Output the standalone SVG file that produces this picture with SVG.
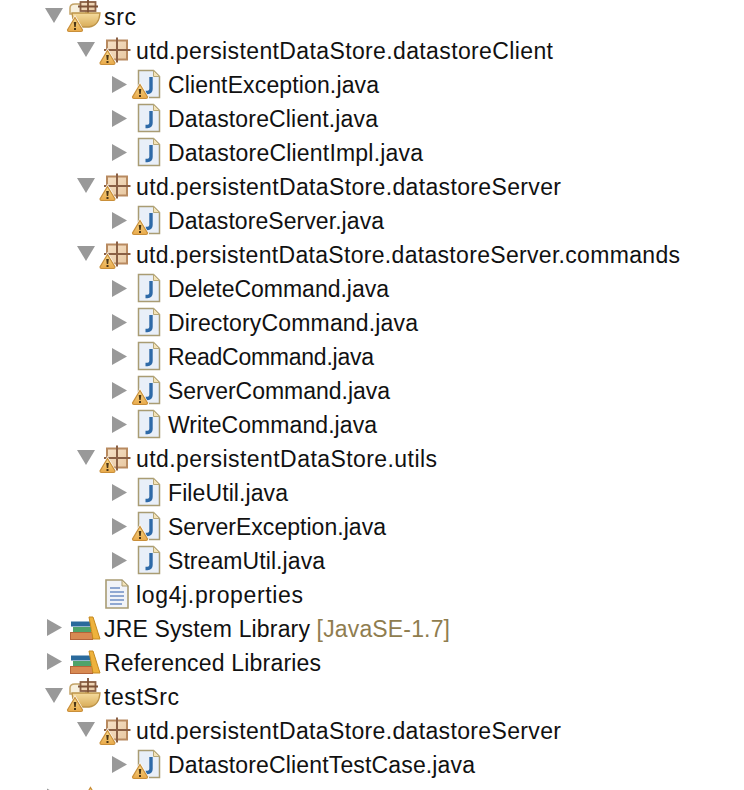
<svg xmlns="http://www.w3.org/2000/svg" width="744" height="790" viewBox="0 0 744 790">
<style>
text{font-family:"Liberation Sans",Arial,sans-serif;font-size:23px;fill:#111}
.tag{fill:#8f7d4f}
.tw{fill:#999}
</style>
<defs>
<linearGradient id="pg" x1="0" y1="0" x2="1" y2="1"><stop offset="0" stop-color="#f6e2c8"/><stop offset="1" stop-color="#e8c8a2"/></linearGradient>
<linearGradient id="bowl" x1="0" y1="0" x2="0" y2="1"><stop offset="0" stop-color="#f5dc9f"/><stop offset="1" stop-color="#d9ac58"/></linearGradient>
<linearGradient id="wg" x1="0" y1="0" x2="0" y2="1"><stop offset="0" stop-color="#f8d98a"/><stop offset="1" stop-color="#e8a94a"/></linearGradient>
<path id="down" class="tw" d="M-9-7.500H9L0 7.500Z"/>
<path id="right" class="tw" d="M-7.500-8.500L7.500 0-7.500 8.500Z"/>
<g id="warn"><path d="M0-9L8 4.500Q8 6 6 6H-6Q-8 6-8 4.500Z" fill="#fff" stroke="#fff" stroke-width="2"/><path d="M0-8.500L7.500 4Q7.500 5.500 6 5.500H-6Q-7.500 5.500-7.500 4Z" fill="url(#wg)" stroke="#c98f3a" stroke-width="1.200"/><path d="M-1.300-4H1.300L.7 1H-.7Z" fill="#4a3415"/><rect x="-1" y="2" width="2" height="2" fill="#4a3415"/></g>
<g id="pkg"><rect x="-10" y="-9.500" width="20" height="19" fill="url(#pg)" stroke="#b88a60" stroke-width="2"/><path d="M-1-12.500H1V12.500H-1ZM-13-1H13.500V1H-13Z" fill="#8a6045"/></g>
<g id="java"><path d="M-10.500-13.500H4.500L10.500-7.500V13.500H-10.500Z" fill="#e9eff8" stroke="#a99c73" stroke-width="1.500"/><path d="M4.500-13.500V-7.500H10.500Z" fill="#f4e3b8" stroke="#b7a878" stroke-width="1"/><path d="M2-7V5Q2 8.500-1.500 8.500H-3.500" fill="none" stroke="#2e6aa8" stroke-width="3.400"/></g>
<g id="prop"><path d="M-11-14H5L11-8V14H-11Z" fill="#f1f3f8" stroke="#a99c73" stroke-width="1.600"/><path d="M5-14V-8H11Z" fill="#f4e3b8" stroke="#a99c73" stroke-width="1"/><path d="M-7-6H3M-7-2H7M-7 2H7M-7 6H7M-7 10H5" stroke="#6f8fc4" stroke-width="1.700"/></g>
<g id="root"><path d="M-15-8Q-15-12-10-12H1V-2H-15Z" fill="#f7f0de" stroke="#c4a468" stroke-width="1.500"/><rect x="-4.500" y="-14" width="15" height="9" fill="url(#pg)" stroke="#8a6045" stroke-width="1.800"/><path d="M3-18V-2M-7-9.500H13" stroke="#7d5237" stroke-width="1.800"/><path d="M-13-3H15Q14 10 4 11H-6Q-12 9-13-3Z" fill="url(#bowl)" stroke="#bd9448" stroke-width="1.300"/></g>
<g id="lib"><rect x="-14" y="-6.500" width="20" height="5" fill="#2a6a9c"/><rect x="-12" y="-1" width="18" height="5.500" fill="#4fa36a"/><rect x="-14.500" y="4.500" width="22" height="7" fill="#d88a52" stroke="#b5653a"/><path d="M4-11H8L15 11H8Z" fill="#eeb23c" stroke="#c68a20"/></g>
</defs>

<g id="connectors">
<use href="#down" x="54" y="15.500"/>
<use href="#down" x="86" y="49.500"/>
<use href="#right" x="119.500" y="84.500"/>
<use href="#right" x="119.500" y="118.500"/>
<use href="#right" x="119.500" y="152.500"/>
<use href="#down" x="86" y="185.500"/>
<use href="#right" x="119.500" y="220.500"/>
<use href="#down" x="86" y="253.500"/>
<use href="#right" x="119.500" y="288.500"/>
<use href="#right" x="119.500" y="322.500"/>
<use href="#right" x="119.500" y="356.500"/>
<use href="#right" x="119.500" y="390.500"/>
<use href="#right" x="119.500" y="424.500"/>
<use href="#down" x="86" y="457.500"/>
<use href="#right" x="119.500" y="492.500"/>
<use href="#right" x="119.500" y="526.500"/>
<use href="#right" x="119.500" y="560.500"/>
<use href="#right" x="54.500" y="627.500"/>
<use href="#right" x="54.500" y="661.500"/>
<use href="#down" x="54" y="695.500"/>
<use href="#down" x="86" y="729.500"/>
<use href="#right" x="119.500" y="764.500"/>
<use href="#right" x="54.500" y="797"/>
</g>

<g id="n-src"><use href="#root" x="85" y="16"/><use href="#warn" x="75" y="26"/><text x="104" y="24.500" textLength="32">src</text></g>
<g id="n-client"><use href="#pkg" x="117" y="50"/><use href="#warn" x="107.500" y="59"/><text x="136" y="58.500" textLength="417">utd.persistentDataStore.datastoreClient</text></g>
<g id="n-clientex"><use href="#java" x="149" y="84"/><use href="#warn" x="140" y="93"/><text x="168" y="92.500" textLength="211">ClientException.java</text></g>
<g id="n-dsclient"><use href="#java" x="149" y="118"/><text x="168" y="126.500" textLength="210">DatastoreClient.java</text></g>
<g id="n-dsclientimpl"><use href="#java" x="149" y="152"/><text x="168" y="160.500" textLength="255">DatastoreClientImpl.java</text></g>
<g id="n-server"><use href="#pkg" x="117" y="186"/><use href="#warn" x="107.500" y="195"/><text x="136" y="194.500" textLength="425">utd.persistentDataStore.datastoreServer</text></g>
<g id="n-dsserver"><use href="#java" x="149" y="220"/><use href="#warn" x="140" y="229"/><text x="168" y="228.500" textLength="216">DatastoreServer.java</text></g>
<g id="n-commands"><use href="#pkg" x="117" y="254"/><use href="#warn" x="107.500" y="263"/><text x="136" y="262.500" textLength="544">utd.persistentDataStore.datastoreServer.commands</text></g>
<g id="n-delete"><use href="#java" x="149" y="288"/><text x="168" y="296.500" textLength="221">DeleteCommand.java</text></g>
<g id="n-directory"><use href="#java" x="149" y="322"/><text x="168" y="330.500" textLength="250">DirectoryCommand.java</text></g>
<g id="n-read"><use href="#java" x="149" y="356"/><text x="168" y="364.500" textLength="206">ReadCommand.java</text></g>
<g id="n-servercmd"><use href="#java" x="149" y="390"/><use href="#warn" x="140" y="399"/><text x="168" y="398.500" textLength="222">ServerCommand.java</text></g>
<g id="n-write"><use href="#java" x="149" y="424"/><text x="168" y="432.500" textLength="209">WriteCommand.java</text></g>
<g id="n-utils"><use href="#pkg" x="117" y="458"/><use href="#warn" x="107.500" y="467"/><text x="136" y="466.500" textLength="301">utd.persistentDataStore.utils</text></g>
<g id="n-fileutil"><use href="#java" x="149" y="492"/><text x="168" y="500.500" textLength="120">FileUtil.java</text></g>
<g id="n-serverex"><use href="#java" x="149" y="526"/><use href="#warn" x="140" y="535"/><text x="168" y="534.500" textLength="218">ServerException.java</text></g>
<g id="n-streamutil"><use href="#java" x="149" y="560"/><text x="168" y="568.500" textLength="157">StreamUtil.java</text></g>
<g id="n-log4j"><use href="#prop" x="117" y="594"/><text x="136" y="602.500" textLength="167">log4j.properties</text></g>
<g id="n-jre"><use href="#lib" x="85" y="628"/><text x="104" y="636.500" textLength="346">JRE System Library <tspan class="tag">[JavaSE-1.7]</tspan></text></g>
<g id="n-reflib"><use href="#lib" x="85" y="662"/><text x="104" y="670.500" textLength="217">Referenced Libraries</text></g>
<g id="n-testsrc"><use href="#root" x="85" y="696"/><use href="#warn" x="75" y="706"/><text x="104" y="704.500" textLength="75">testSrc</text></g>
<g id="n-testserver"><use href="#pkg" x="117" y="730"/><use href="#warn" x="107.500" y="739"/><text x="136" y="738.500" textLength="425">utd.persistentDataStore.datastoreServer</text></g>
<g id="n-testcase"><use href="#java" x="149" y="764"/><use href="#warn" x="140" y="773"/><text x="168" y="772.500" textLength="307">DatastoreClientTestCase.java</text></g>
<g id="n-clipped"><use href="#warn" x="90.500" y="796"/></g>
</svg>
